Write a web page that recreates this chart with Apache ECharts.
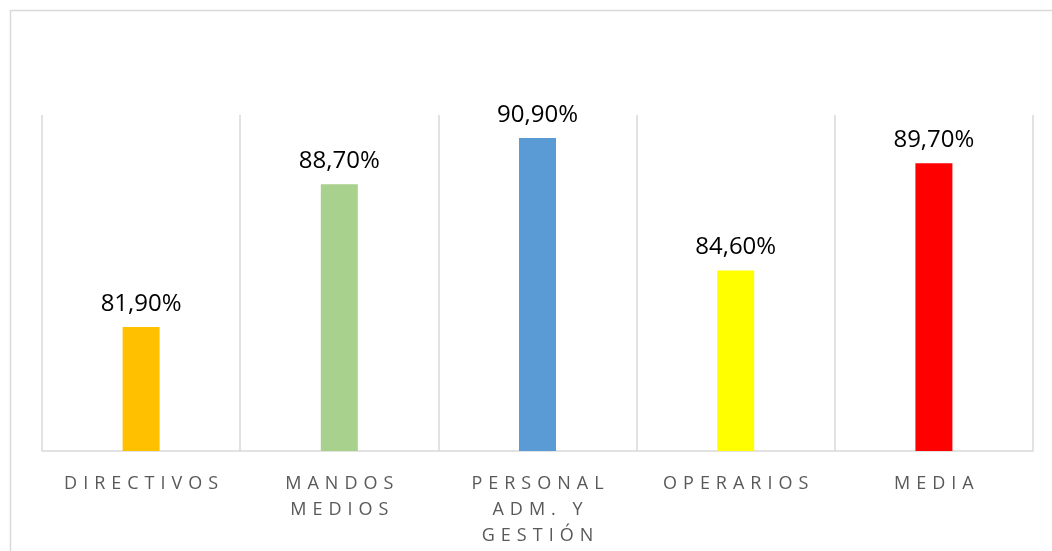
<!DOCTYPE html>
<html lang="es">
<head>
  <meta charset="UTF-8">
  <title>Satisfacción por colectivo</title>
  <script src="https://cdn.jsdelivr.net/npm/echarts@6/dist/echarts.min.js"></script>
  <style>
    html, body { margin: 0; padding: 0; background: #fff; }
    #main { width: 1052px; height: 551px; }
  </style>
</head>
<body>
<div id="main"></div>
<script type="text/javascript">
  // datos del gráfico
  var categorias = ['DIRECTIVOS', 'MANDOS\nMEDIOS', 'PERSONAL\nADM. Y\nGESTIÓN', 'OPERARIOS', 'MEDIA'];
  var valores = [81.9, 88.7, 90.9, 84.6, 89.7];
  var colores = ['#FFC000', '#A9D18E', '#5B9BD5', '#FFFF00', '#FF0000'];

  // espaciado entre letras como en el original
  function espaciar(txt) {
    return txt.split('\n').map(function (linea) {
      return linea.split('').join('\u2004');
    }).join('\n');
  }

  var myChart = echarts.init(document.getElementById('main'));

  var datos = [];
  for (var i = 0; i < valores.length; i++) {
    datos.push({ value: valores[i], itemStyle: { color: colores[i] } });
  }

  myChart.setOption({
    animation: false,
    graphic: [{
      type: 'rect',
      shape: { x: 10.5, y: 10.5, width: 1200, height: 700 },
      style: { fill: 'none', stroke: '#d9d9d9', lineWidth: 1.5 },
      silent: true
    }],
    grid: { left: 42, right: 19, top: 115, bottom: 100 },
    xAxis: {
      type: 'category',
      data: categorias,
      axisLine: { lineStyle: { color: '#d9d9d9', width: 1.5 } },
      axisTick: { show: false },
      splitLine: { show: true, lineStyle: { color: '#d9d9d9', width: 1.5 } },
      axisLabel: {
        interval: 0,
        color: '#595959',
        fontFamily: 'Open Sans',
        fontSize: 18,
        lineHeight: 26,
        margin: 20,
        formatter: function (v) { return espaciar(v); }
      }
    },
    yAxis: {
      type: 'value',
      min: 76,
      max: 92,
      show: false,
      splitLine: { show: false }
    },
    series: [{
      type: 'bar',
      barWidth: 37,
      data: datos,
      label: {
        show: true,
        position: 'top',
        distance: 11,
        color: '#000',
        fontFamily: 'Open Sans',
        fontSize: 24,
        formatter: function (p) { return p.value.toFixed(2).replace('.', ',') + '%'; }
      }
    }]
  });
</script>
</body>
</html>
